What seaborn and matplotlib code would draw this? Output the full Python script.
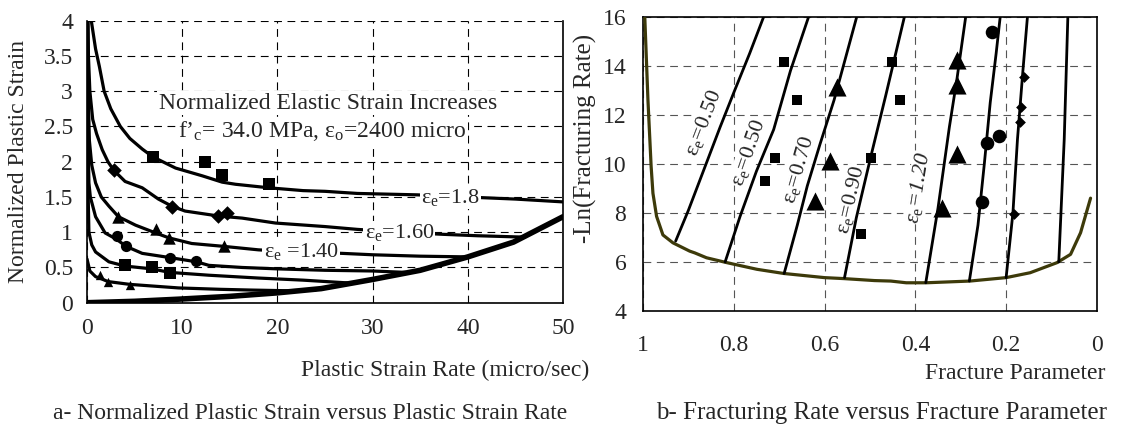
import matplotlib
matplotlib.use("Agg")
import matplotlib.pyplot as plt
import seaborn as sns

# ---------------- Panel a data ----------------
a_x_18 = [0.45, 0.9, 1.3, 1.8, 2.5, 3.5, 4.5, 5.8, 6.9, 9.3, 12.1, 14.2, 15.6, 19.1, 22.7, 25, 28.4, 34.7, 41.5, 45, 50]
a_y_18 = [4.0, 3.6, 3.35, 3.0, 2.75, 2.5, 2.33, 2.18, 2.07, 1.91, 1.80, 1.71, 1.68, 1.63, 1.59, 1.58, 1.55, 1.53, 1.49, 1.47, 1.43]
a_x_16 = [0.1, 0.15, 0.3, 0.6, 1.0, 1.6, 2.2, 2.8, 4.0, 5.8, 7.5, 8.9, 10.3, 13.8, 16.3, 19.8, 25, 28.4, 33, 37.4, 41, 46]
a_y_16 = [4.0, 3.5, 3.0, 2.6, 2.4, 2.17, 2.0, 1.88, 1.72, 1.63, 1.47, 1.37, 1.30, 1.23, 1.20, 1.13, 1.08, 1.04, 1.0, 0.97, 0.95, 0.93]
a_x_14 = [0.08, 0.12, 0.25, 0.5, 0.9, 1.5, 2.3, 3.3, 5.1, 7.2, 8.6, 11, 14.3, 18, 22, 26.8, 30, 35, 40]
a_y_14 = [4.0, 3.0, 2.3, 1.95, 1.7, 1.5, 1.37, 1.22, 1.10, 0.99, 0.92, 0.84, 0.80, 0.75, 0.72, 0.70, 0.68, 0.66, 0.65]
a_x_c4 = [0.05, 0.1, 0.2, 0.35, 0.9, 1.9, 3.1, 4.1, 5.8, 8.7, 11.5, 12.8, 16.3, 20, 25, 30, 33.5]
a_y_c4 = [4.0, 2.5, 1.7, 1.5, 1.22, 0.99, 0.90, 0.80, 0.70, 0.64, 0.58, 0.53, 0.50, 0.48, 0.46, 0.45, 0.43]
a_x_c5 = [0.03, 0.05, 0.2, 0.5, 0.9, 2.3, 4.0, 6.8, 8.7, 12.8, 18, 22.7, 27.5]
a_y_c5 = [4.0, 2.0, 1.0, 0.82, 0.72, 0.58, 0.52, 0.48, 0.43, 0.39, 0.35, 0.32, 0.28]
a_x_c6 = [0, 0.3, 0.9, 1.5, 2.2, 4.5, 9.6, 14, 17.1, 21, 24]
a_y_c6 = [0.62, 0.45, 0.37, 0.34, 0.30, 0.26, 0.21, 0.19, 0.18, 0.17, 0.18]
a_x_env = [0, 5, 9.6, 15, 20, 24.6, 30, 35, 40, 44.8, 50]
a_y_env = [0, 0.02, 0.05, 0.09, 0.14, 0.20, 0.33, 0.46, 0.65, 0.86, 1.22]

a_sq_x = [6.9, 12.4, 14.2, 19.1]
a_sq_y = [2.06, 2.0, 1.81, 1.69]
a_di_x = [2.8, 8.9, 13.8, 14.7]
a_di_y = [1.88, 1.36, 1.23, 1.27]
a_tr_x = [3.3, 7.2, 8.6, 14.4]
a_tr_y = [1.22, 1.05, 0.92, 0.80]
a_ci_x = [3.1, 4.1, 8.7, 11.5]
a_ci_y = [0.95, 0.80, 0.64, 0.59]
a_sq2_x = [4.0, 6.8, 8.7]
a_sq2_y = [0.53, 0.51, 0.42]
a_tr2_x = [1.4, 2.2, 4.5]
a_tr2_y = [0.40, 0.30, 0.25]

a_xticks = [0, 10, 20, 30, 40, 50]
a_yticks = [0, 0.5, 1, 1.5, 2, 2.5, 3, 3.5, 4]
a_ytick_labels = ["0", "0.5", "1", "1.5", "2", "2.5", "3", "3.5", "4"]

# ---------------- Panel b data ----------------
b_env_x = [0.996, 0.989, 0.982, 0.978, 0.97, 0.956, 0.934, 0.897, 0.886, 0.86, 0.815, 0.749, 0.69, 0.60, 0.557,
           0.49, 0.454, 0.42, 0.376, 0.28, 0.2, 0.147, 0.088, 0.058, 0.036, 0.014]
b_env_y = [16, 12.6, 9.9, 8.8, 7.86, 7.1, 6.78, 6.44, 6.37, 6.17, 5.97, 5.7, 5.53, 5.36, 5.32,
           5.24, 5.22, 5.15, 5.15, 5.22, 5.36, 5.56, 5.97, 6.31, 7.19, 8.6]
b_lines_x = [
    [0.928, 0.90, 0.865, 0.83, 0.80, 0.765, 0.734],
    [0.819, 0.786, 0.75, 0.712, 0.675, 0.635],
    [0.689, 0.66, 0.638, 0.61, 0.579, 0.529],
    [0.556, 0.53, 0.498, 0.465, 0.424],
    [0.377, 0.35, 0.325, 0.308, 0.289],
    [0.281, 0.262, 0.248, 0.235, 0.222, 0.213],
    [0.2, 0.185, 0.175, 0.163, 0.153],
    [0.084, 0.078, 0.072, 0.068, 0.064],
]
b_lines_y = [
    [6.85, 8.1, 9.8, 11.5, 12.9, 14.5, 16],
    [6.0, 7.86, 9.7, 11.4, 13.8, 16],
    [5.53, 7.5, 9.1, 10.8, 12.6, 16],
    [5.36, 7.8, 10.3, 12.8, 16],
    [5.15, 8.2, 11.5, 13.5, 16],
    [5.22, 7.5, 10.0, 12.5, 14.5, 16],
    [5.36, 8.0, 11.0, 13.8, 16],
    [6.0, 8.5, 11.0, 13.5, 16],
]
b_sq_x = [0.69, 0.66, 0.709, 0.731, 0.498, 0.52, 0.452, 0.433]
b_sq_y = [14.14, 12.6, 10.24, 9.32, 10.24, 7.12, 14.14, 12.6]
b_tr_x = [0.572, 0.588, 0.621, 0.308, 0.308, 0.309, 0.342]
b_tr_y = [13.15, 10.1, 8.47, 14.24, 13.22, 10.4, 8.2]
b_ci_x = [0.232, 0.243, 0.215, 0.254]
b_ci_y = [15.39, 10.87, 11.15, 8.43]
b_di_x = [0.16, 0.167, 0.17, 0.182]
b_di_y = [13.56, 12.3, 11.7, 7.96]

b_xticks = [1, 0.8, 0.6, 0.4, 0.2, 0]
b_xtick_labels = ["1", "0.8", "0.6", "0.4", "0.2", "0"]
b_yticks = [4, 6, 8, 10, 12, 14, 16]

b_lab_text = [r"ε$_{\rm e}$=0.50", r"ε$_{\rm e}$=0.50", r"ε$_{\rm e}$=0.70", r"ε$_{\rm e}$=0.90", r"ε$_{\rm e}$=1.20"]
b_lab_x = [0.867, 0.768, 0.657, 0.542, 0.393]
b_lab_y = [11.66, 10.44, 9.76, 8.54, 9.02]
b_lab_rot = [69, 71, 74, 77, 81]

# ---------------- style ----------------
sns.set_theme(style="white")
plt.rcParams["font.family"] = ["Liberation Serif", "DejaVu Serif"]
plt.rcParams["mathtext.fontset"] = "custom"
plt.rcParams["mathtext.rm"] = "Liberation Serif"
plt.rcParams["mathtext.it"] = "Liberation Serif:italic"

FS = 17
fig = plt.figure(figsize=(11.27, 4.26), dpi=100)
axL = fig.add_axes([0.0772, 0.2894, 0.4224, 0.6620])
axR = fig.add_axes([0.5705, 0.2700, 0.4028, 0.6908])

# ---------- panel a ----------
lw = 2.3
for xs, ys in [(a_x_18, a_y_18), (a_x_16, a_y_16), (a_x_14, a_y_14),
               (a_x_c4, a_y_c4), (a_x_c5, a_y_c5), (a_x_c6, a_y_c6)]:
    sns.lineplot(x=xs, y=ys, sort=False, estimator=None, color="black", linewidth=lw, ax=axL, zorder=3)
sns.lineplot(x=a_x_env, y=a_y_env, sort=False, estimator=None, color="black", linewidth=4.0, ax=axL, zorder=3)

def mk(ax, xs, ys, m, s):
    sns.scatterplot(x=xs, y=ys, marker=m, s=s, color="black", edgecolor="black", linewidth=0, ax=ax, zorder=5)

mk(axL, a_sq_x, a_sq_y, "s", 70)
mk(axL, a_di_x, a_di_y, "D", 55)
mk(axL, a_tr_x, a_tr_y, "^", 80)
mk(axL, a_ci_x, a_ci_y, "o", 65)
mk(axL, a_sq2_x, a_sq2_y, "s", 70)
mk(axL, a_tr2_x, a_tr2_y, "^", 45)

axL.set_xlim(0, 50)
axL.set_ylim(0, 4)
axL.set_xticks(a_xticks)
axL.set_xticklabels([str(v) for v in a_xticks])
axL.set_yticks(a_yticks)
axL.set_yticklabels(a_ytick_labels)
axL.grid(True, color="black", linestyle=(0, (7, 5)), linewidth=0.8)
axL.set_axisbelow(True)
for s in ["left", "bottom", "right"]:
    axL.spines[s].set_color("black")
    axL.spines[s].set_linewidth(1.2)
axL.spines["top"].set_visible(False)
axL.tick_params(axis="x", length=0, pad=11, labelsize=FS)
axL.tick_params(axis="y", length=0, pad=10, labelsize=FS)

wb = dict(facecolor="white", edgecolor="none", pad=1.0)
axL.text(25.3, 2.83, "Normalized Elastic Strain Increases", ha="center", va="center", fontsize=FS, bbox=wb, zorder=6)
axL.text(24.7, 2.43, r"f’$_{\rm c}$= 34.0 MPa, ε$_{\rm o}$=2400 micro", ha="center", va="center", fontsize=FS, bbox=wb, zorder=6)
axL.text(38.2, 1.49, r"ε$_{\rm e}$=1.8", ha="center", va="center", fontsize=16, bbox=wb, zorder=6)
axL.text(32.8, 0.99, r"ε$_{\rm e}$=1.60", ha="center", va="center", fontsize=16, bbox=wb, zorder=6)
axL.text(22.5, 0.72, r"ε$_{\rm e}$ =1.40", ha="center", va="center", fontsize=16, bbox=wb, zorder=6)

# ---------- panel b ----------
olive = "#3d3a0a"
sns.lineplot(x=b_env_x, y=b_env_y, sort=False, estimator=None, color=olive, linewidth=2.3, ax=axR, zorder=3)
for xs, ys in zip(b_lines_x, b_lines_y):
    sns.lineplot(x=xs, y=ys, sort=False, estimator=None, color="black", linewidth=2.0, ax=axR, zorder=3)
mk(axR, b_sq_x, b_sq_y, "s", 55)
mk(axR, b_tr_x, b_tr_y, "^", 170)
mk(axR, b_ci_x, b_ci_y, "o", 95)
mk(axR, b_di_x, b_di_y, "D", 30)

for t, x, y, r in zip(b_lab_text, b_lab_x, b_lab_y, b_lab_rot):
    style = "italic" if "1.20" in t else "normal"
    axR.text(x, y, t, ha="center", va="center", rotation=r, rotation_mode="anchor", fontsize=16,
             style=style, bbox=dict(facecolor="white", edgecolor="none", pad=0.3), zorder=2.5)

axR.set_xlim(1, 0)
axR.set_ylim(4, 16)
axR.set_xticks(b_xticks)
axR.set_xticklabels(b_xtick_labels)
axR.set_yticks(b_yticks)
axR.set_yticklabels([str(v) for v in b_yticks])
axR.grid(True, color="#555555", linestyle=(0, (7, 5)), linewidth=0.8)
axR.set_axisbelow(True)
for s in axR.spines.values():
    s.set_color("black")
    s.set_linewidth(1.2)
axR.tick_params(axis="x", length=0, pad=17, labelsize=FS)
axR.tick_params(axis="y", length=0, pad=12, labelsize=FS)

# ---------- labels & captions ----------
fig.text(0.5226, 0.1315, "Plastic Strain Rate (micro/sec)", ha="right", va="center", fontsize=FS)
fig.text(0.016, 0.622, "Normalized Plastic Strain", ha="center", va="center", rotation=90, fontsize=FS)
fig.text(0.9805, 0.1244, "Fracture Parameter", ha="right", va="center", fontsize=FS)
fig.text(0.5195, 0.675, "-Ln(Fracturing Rate)", ha="center", va="center", rotation=90, fontsize=18)
fig.text(0.275, 0.0305, "a- Normalized Plastic Strain versus Plastic Strain Rate", ha="center", va="center", fontsize=FS)
fig.text(0.7826, 0.0305, "b- Fracturing Rate versus Fracture Parameter", ha="center", va="center", fontsize=18)

fig.savefig("out.png", dpi=100, facecolor="white")
